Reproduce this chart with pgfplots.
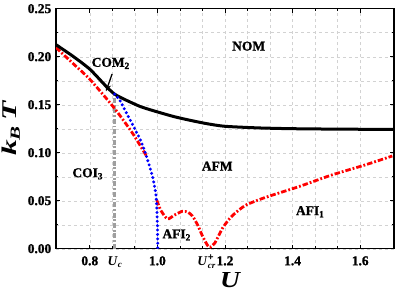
\documentclass[border=0pt]{standalone}
\usepackage{fontspec}
\setmainfont{Liberation Serif}[BoldFeatures={FakeBold=1.2}]
\usepackage{pgfplots}
\pgfplotsset{compat=1.18}
\usetikzlibrary{arrows.meta}
\newcommand{\lbl}{\fontsize{13.5}{15}\selectfont\bfseries}
\begin{document}
\begin{tikzpicture}
\begin{axis}[
  scale only axis, width=338bp, height=240bp,
  xmin=0.7, xmax=1.7, ymin=0, ymax=0.25,
  xtick={0.8,1.0,1.2,1.4,1.6}, xticklabels={0.8,1.0,1.2,1.4,1.6},
  ytick={0,0.05,0.10,0.15,0.20,0.25},
  yticklabels={0.00,0.05,0.10,0.15,0.20,0.25},
  minor x tick num=2, minor y tick num=1,
  tick align=inside, xtick pos=both, ytick pos=both,
  major tick length=4bp, minor tick length=2.5bp,
  axis line style={line width=1.2bp},
  every tick/.style={black, line width=0.8bp},
  grid=both,
  major grid style={gray!35, dashed, line width=0.4bp},
  minor grid style={gray!35, dashed, line width=0.4bp},
  ticklabel style={font=\fontsize{13.5}{15}\selectfont\bfseries},
  xticklabel style={text height=9bp, text depth=3bp, yshift=-4bp},
  yticklabel style={xshift=-1.2bp},
  extra x ticks={0.8735,1.145},
  extra x tick labels={\textit{U}\raisebox{-0.45ex}{\fontsize{9}{10}\selectfont\textit{c}},
    \textit{U}\makebox[0pt][l]{\raisebox{0.85ex}{\fontsize{10}{10}\selectfont+}}\raisebox{-0.5ex}{\fontsize{9}{10}\selectfont\textit{cr}}},
  extra x tick style={major tick length=0pt, grid=none},
  xlabel={\scalebox{1.2}[1]{\fontsize{23}{26}\selectfont\bfseries\itshape U}},
  xlabel style={at={(axis description cs:0.515,-0.13)}, anchor=center},
  ylabel={\scalebox{1.5}[1]{\fontsize{21}{24}\selectfont\bfseries\itshape k\raisebox{-0.35ex}{\fontsize{14}{16}\selectfont B}\,T}},
  ylabel style={at={(axis description cs:-0.133,0.5)}, anchor=center},
]
% gray vertical line at U_c
\addplot[gray!75, line width=2.4bp, dash pattern=on 5bp off 1.8bp on 1.8bp off 1.8bp] coordinates {(0.8735,0) (0.8735,0.161)};
% red dash-dot (part 1)
\addplot[red, line width=2.8bp, dash pattern=on 5.5bp off 2bp on 1.8bp off 2bp, smooth, tension=0.4] coordinates {
(0.70,0.2095) (0.75,0.193) (0.80,0.1765) (0.8735,0.146) (0.927,0.120) (0.967,0.097)};
% red dash-dot (part 2)
\addplot[red, line width=2.8bp, dash pattern=on 5.5bp off 2bp on 1.8bp off 2bp, smooth, tension=0.4] coordinates {
(0.998,0.0507) (1.01,0.040) (1.030,0.031) (1.05,0.035) (1.074,0.039)
(1.09,0.038) (1.104,0.034) (1.12,0.024) (1.135,0.012) (1.153,0.0015) (1.17,0.006)
(1.192,0.021) (1.215,0.032) (1.24,0.040) (1.265,0.046) (1.32,0.0535) (1.418,0.0646)
(1.516,0.0768) (1.614,0.0872) (1.695,0.0966)};
% black solid
\addplot[black, line width=3bp, smooth, tension=0.4] coordinates {
(0.70,0.2125) (0.75,0.2005) (0.80,0.187) (0.85,0.1685) (0.8735,0.161) (0.90,0.156)
(0.95,0.148) (1.00,0.1425) (1.05,0.1375) (1.10,0.1335) (1.15,0.130) (1.20,0.1275)
(1.30,0.1258) (1.40,0.125) (1.55,0.1245) (1.70,0.1243)};
% blue dotted
\addplot[blue, line width=3.3bp, line cap=round, dash pattern=on 0bp off 4.4bp, smooth, tension=0.4] coordinates {
(0.8735,0.161) (0.888,0.155) (0.90,0.147) (0.927,0.129) (0.95,0.113) (0.965,0.099)
(0.985,0.076) (0.996,0.055) (1.000,0.025) (1.001,0.0)};
% annotations
\draw[black, line width=1.3bp, -{Stealth[length=7bp,width=6bp]}] (axis cs:0.866,0.182) -- (axis cs:0.848,0.164);
\node[font=\lbl] at (axis cs:0.862,0.193) {COM\textsubscript{2}};
\node[font=\lbl] at (axis cs:1.27,0.211) {NOM};
\node[font=\lbl] at (axis cs:0.794,0.078) {COI\textsubscript{3}};
\node[font=\lbl] at (axis cs:1.177,0.086) {AFM};
\node[font=\lbl] at (axis cs:1.057,0.0143) {AFI\textsubscript{2}};
\node[font=\lbl] at (axis cs:1.452,0.0385) {AFI\textsubscript{1}};
\end{axis}
\pgfresetboundingbox
\useasboundingbox ([xshift=-56bp,yshift=-44.3bp]current axis.south west) rectangle ([xshift=9bp,yshift=8.7bp]current axis.north east);
\end{tikzpicture}
\end{document}
